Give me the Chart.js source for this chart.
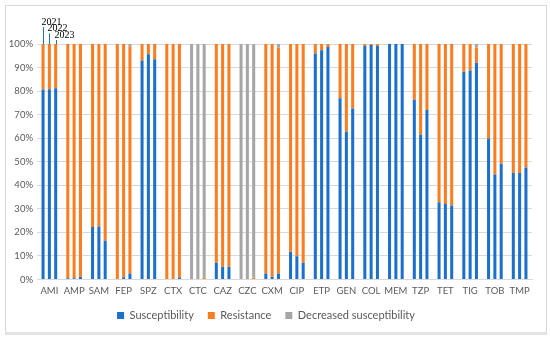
<!DOCTYPE html>
<html>
<head>
<meta charset="utf-8">
<script src="https://cdn.jsdelivr.net/npm/chart.js@4"></script>
<style>
  html, body { margin: 0; padding: 0; background: #fff; }
  #frame { position: absolute; left: 5px; top: 5px; width: 540px; height: 326px; border: 1px solid #d9d9d9; border-bottom: 3px solid #e3e3e3; }
  #wrap { position: absolute; left: 0; top: 0; width: 550px; height: 339px; }
</style>
</head>
<body>
<div id="frame"></div>
<div id="wrap"><canvas id="abChart" width="550" height="339"></canvas></div>
<script>
var categories = ["AMI", "AMP", "SAM", "FEP", "SPZ", "CTX", "CTC", "CAZ", "CZC", "CXM",
                  "CIP", "ETP", "GEN", "COL", "MEM", "TZP", "TET", "TIG", "TOB", "TMP"];
var years = ["2021", "2022", "2023"];

// percent of isolates
var susc2021 = [80.7, 0.5, 22.3, 0, 93, 0, 0, 7.1, 0, 2.5, 11.8, 96, 77, 99.3, 100, 76.3, 32.8, 88.2, 59.9, 45.2];
var susc2022 = [80.8, 0.5, 22.5, 1, 95.6, 0, 0, 5.4, 0, 1.2, 9.9, 97.3, 62.8, 99.6, 100, 61.6, 32.1, 88.8, 44.6, 45.2];
var susc2023 = [81.2, 1.2, 16.5, 2.5, 93.5, 0.8, 0, 5.4, 0, 2.5, 7.1, 98.7, 72.6, 99.3, 100, 72, 31.4, 92, 49.1, 47.6];

var resist2021 = [19.3, 99.5, 77.7, 100, 7, 100, 0, 92.9, 0, 97.5, 88.2, 4, 23, 0.7, 0, 23.7, 67.2, 11.8, 40.1, 54.8];
var resist2022 = [19.2, 99.5, 77.5, 99, 4.4, 100, 0, 94.6, 0, 98.8, 90.1, 2.7, 37.2, 0.4, 0, 38.4, 67.9, 11.2, 55.4, 54.8];
var resist2023 = [18.8, 98.8, 83.5, 96.5, 6.5, 99.2, 0.7, 94.6, 0.7, 96, 92.9, 1.3, 27.4, 0.7, 0, 28, 68.6, 6.5, 50.9, 52.4];

var decr2021 = [0, 0, 0, 0, 0, 0, 100, 0, 100, 0, 0, 0, 0, 0, 0, 0, 0, 0, 0, 0];
var decr2022 = [0, 0, 0, 0, 0, 0, 100, 0, 100, 0, 0, 0, 0, 0, 0, 0, 0, 0, 0, 0];
var decr2023 = [0, 0, 0, 1, 0, 0, 99.3, 0, 99.3, 1.5, 0, 0, 0, 0, 0, 0, 0, 1.5, 0, 0];

var yTicks = [0, 10, 20, 30, 40, 50, 60, 70, 80, 90, 100];

var BLUE = "#1c6fcb", ORANGE = "#fb7d22", GRAY = "#a6a6a6";
var susc = [susc2021, susc2022, susc2023];
var resist = [resist2021, resist2022, resist2023];
var decr = [decr2021, decr2022, decr2023];

var datasets = [];
years.forEach(function (yr, i) {
    datasets.push({ label: "Susceptibility", data: susc[i], backgroundColor: BLUE, stack: yr });
    datasets.push({ label: "Resistance", data: resist[i], backgroundColor: ORANGE, stack: yr });
    datasets.push({ label: "Decreased susceptibility", data: decr[i], backgroundColor: GRAY, stack: yr });
});

// year callouts above the first group of bars
var yearLabels = {
    id: "yearLabels",
    afterDatasetsDraw: function (chart) {
        var c = chart.ctx;
        var top = chart.chartArea.top;
        c.save();
        c.font = "10px 'Liberation Serif'";
        c.fillStyle = "#000";
        c.textBaseline = "middle";
        c.strokeStyle = BLUE;
        c.lineWidth = 1;
        years.forEach(function (yr, i) {
            var bar = chart.getDatasetMeta(i * 3).data[0];
            var x = Math.round(bar.x) + 0.5;
            var ty = top - 22 + i * 6.5;
            c.beginPath();
            c.moveTo(x, ty + 5);
            c.lineTo(x, top);
            c.stroke();
            c.fillText(yr, x - 2, ty);
        });
        c.restore();
    }
};

var ctx = document.getElementById("abChart").getContext("2d");
new Chart(ctx, {
    type: "bar",
    data: { labels: categories, datasets: datasets },
    plugins: [yearLabels],
    options: {
        responsive: false,
        animation: false,
        layout: { padding: { top: 44, left: 0, right: 18, bottom: 8 } },
        datasets: { bar: { categoryPercentage: 0.765, barPercentage: 0.48 } },
        scales: {
            x: {
                stacked: true,
                grid: { display: false, drawTicks: false },
                border: { color: "#d9d9d9" },
                ticks: { color: "#595959", font: { family: "Lato", size: 9.5 }, padding: 6, maxRotation: 0, autoSkip: false },
                afterFit: function (s) { s.height = 16.5; }
            },
            y: {
                min: 0,
                max: 100,
                afterBuildTicks: function (s) { s.ticks = yTicks.map(function (v) { return { value: v }; }); },
                grid: { color: "#d9d9d9", drawTicks: false },
                border: { display: false },
                ticks: {
                    color: "#595959",
                    font: { family: "Lato", size: 9.5 },
                    padding: 4,
                    callback: function (v) { return v + "%"; }
                },
                afterFit: function (s) { s.width = 37; }
            }
        },
        plugins: {
            legend: {
                position: "bottom",
                labels: {
                    color: "#595959",
                    font: { family: "Lato", size: 11 },
                    boxWidth: 7,
                    boxHeight: 7,
                    padding: 14,
                    filter: function (item) { return item.datasetIndex < 3; }
                }
            },
            tooltip: { enabled: false }
        }
    }
});
</script>
</body>
</html>
